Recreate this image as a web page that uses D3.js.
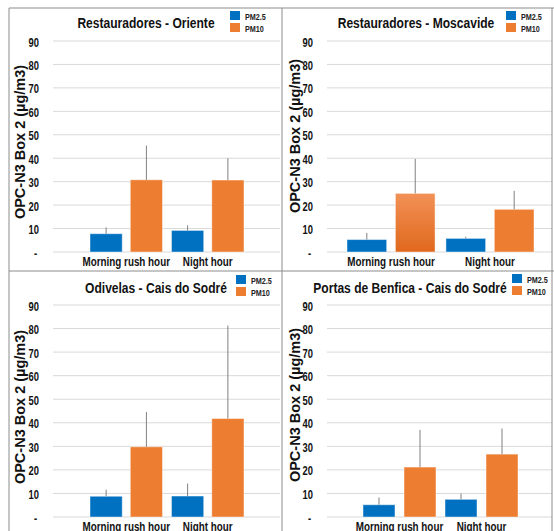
<!DOCTYPE html>
<html>
<head>
<meta charset="utf-8">
<script src="https://cdn.jsdelivr.net/npm/d3@7"></script>
<style>
  body { margin: 0; background: #fff; }
  svg { display: block; }
  text { font-family: "Liberation Sans", Arial, sans-serif; font-weight: bold; }
</style>
</head>
<body>
<svg id="chart" width="554" height="531"></svg>
<script>
// data
const categories = ["Morning rush hour", "Night hour"];
const series = ["PM2.5", "PM10"];
const titles = [
  "Restauradores - Oriente",
  "Restauradores - Moscavide",
  "Odivelas - Cais do Sodré",
  "Portas de Benfica - Cais do Sodré"
];
const pm25 = [[7.8, 9.2], [5.3, 5.8], [8.8, 8.9], [5.2, 7.5]];
const pm10 = [[30.8, 30.7], [25.0, 18.2], [29.8, 41.8], [21.2, 26.7]];
// upper error (sd) on each bar
const pm25Err = [[2.7, 2.2], [2.8, 0.7], [2.8, 5.3], [3.1, 2.5]];
const pm10Err = [[14.6, 9.3], [14.7, 7.9], [14.8, 39.5], [15.8, 10.9]];
const yTicks = [0, 10, 20, 30, 40, 50, 60, 70, 80, 90];
const yTitle = "OPC-N3 Box 2 (µg/m3)";

const colors = {"PM2.5": "#0070c0", "PM10": "#ed7d31"};

// where each panel sits on the page
const panels = [
  {y0: 252, y1: 41,  gx: 53,  gx2: 280, bx: [90, 244],  inner: 0.2,  titleX: 146, titleY: 28,  legX: 230, legY: 11,  labX: 25,  labY: 142},
  {y0: 252, y1: 41,  gx: 327, gx2: 552, bx: [347, 534], inner: 0.18, titleX: 416, titleY: 28,  legX: 506, legY: 11,  labX: 300, labY: 136},
  {y0: 517, y1: 305, gx: 53,  gx2: 280, bx: [90, 244],  inner: 0.2,  titleX: 156, titleY: 293, legX: 236, legY: 275, labX: 25,  labY: 407},
  {y0: 517, y1: 305, gx: 327, gx2: 552, bx: [363, 518], inner: 0.22, titleX: 410, titleY: 293, legX: 512, legY: 274, labX: 300, labY: 405}
];

// the source uses a narrow bold face; squeeze the text to get close
function squeeze(sel, f) {
  sel.each(function() {
    const L = this.getComputedTextLength();
    d3.select(this).attr("textLength", L * f).attr("lengthAdjust", "spacingAndGlyphs");
  });
}

const svg = d3.select("#chart");

const defs = svg.append("defs");
const grad = defs.append("linearGradient")
  .attr("id", "orangeGrad")
  .attr("x1", 0).attr("y1", 0).attr("x2", 0).attr("y2", 1);
grad.append("stop").attr("offset", "0%").attr("stop-color", "#f29157");
grad.append("stop").attr("offset", "100%").attr("stop-color", "#e0681c");

panels.forEach(function(p, k) {
  const g = svg.append("g");

  const y = d3.scaleLinear().domain([0, 90]).range([p.y0, p.y1]);
  const x0 = d3.scaleBand().domain(categories).range(p.bx).paddingInner(0.11);
  const x1 = d3.scaleBand().domain(series).range([0, x0.bandwidth()]).paddingInner(p.inner);

  // gridlines
  g.selectAll("line.grid")
    .data(yTicks)
    .join("line")
      .attr("class", "grid")
      .attr("x1", p.gx).attr("x2", p.gx2)
      .attr("y1", d => y(d)).attr("y2", d => y(d))
      .attr("stroke", "#d9d9d9")
      .attr("stroke-width", 1);

  // y axis labels
  const yAxis = d3.axisLeft(y).tickValues(yTicks).tickSize(0).tickPadding(0)
    .tickFormat(d => d === 0 ? "-" : d);
  const ax = g.append("g")
    .attr("transform", `translate(${p.gx - 14},0)`)
    .call(yAxis);
  ax.select(".domain").remove();
  ax.selectAll("text")
    .attr("font-size", 12)
    .attr("font-family", null)
    .attr("fill", "#111")
    .attr("dx", d => d === 0 ? -2 : 0)
    .attr("dy", "0.42em")
    .call(squeeze, 0.78);

  // rows of bars
  const rows = categories.map((c, i) => ({
    cat: c,
    vals: [
      {s: "PM2.5", v: pm25[k][i], e: pm25Err[k][i]},
      {s: "PM10", v: pm10[k][i], e: pm10Err[k][i]}
    ]
  }));

  const grp = g.selectAll("g.cat")
    .data(rows)
    .join("g")
      .attr("class", "cat")
      .attr("transform", d => `translate(${x0(d.cat)},0)`);

  grp.selectAll("rect")
    .data((d, i) => d.vals.map(v => Object.assign({ci: i}, v)))
    .join("rect")
      .attr("x", d => x1(d.s))
      .attr("y", d => y(d.v))
      .attr("width", x1.bandwidth())
      .attr("height", d => y(0) - y(d.v))
      .attr("fill", d => (k === 1 && d.ci === 0 && d.s === "PM10") ? "url(#orangeGrad)" : colors[d.s])
      .attr("stroke", "#ffffff")
      .attr("stroke-opacity", 0.45)
      .attr("stroke-width", 1);

  // upper error whiskers
  grp.selectAll("line.err")
    .data(d => d.vals)
    .join("line")
      .attr("class", "err")
      .attr("x1", d => x1(d.s) + x1.bandwidth() / 2)
      .attr("x2", d => x1(d.s) + x1.bandwidth() / 2)
      .attr("y1", d => y(d.v))
      .attr("y2", d => y(d.v + d.e))
      .attr("stroke", "#808080")
      .attr("stroke-width", 1);

  // category labels
  g.selectAll("text.cat")
    .data(categories)
    .join("text")
      .attr("class", "cat")
      .attr("x", d => x0(d) + x0.bandwidth() / 2)
      .attr("y", p.y0 + 14)
      .attr("text-anchor", "middle")
      .attr("font-size", 12)
      .attr("fill", "#111")
      .text(d => d)
      .call(squeeze, 0.82);

  // title
  g.append("text")
    .attr("x", p.titleX)
    .attr("y", p.titleY)
    .attr("text-anchor", "middle")
    .attr("font-size", 14)
    .attr("fill", "#111")
    .text(titles[k])
    .call(squeeze, 0.86);

  // y title
  g.append("text")
    .attr("transform", `translate(${p.labX},${p.labY}) rotate(-90)`)
    .attr("text-anchor", "middle")
    .attr("font-size", 14.5)
    .attr("fill", "#111")
    .text(yTitle);

  // legend
  const leg = g.selectAll("g.leg")
    .data(series)
    .join("g")
      .attr("class", "leg")
      .attr("transform", (d, i) => `translate(${p.legX},${p.legY + i * 12})`);
  leg.append("rect")
    .attr("width", 10).attr("height", 9)
    .attr("fill", d => colors[d]);
  leg.append("text")
    .attr("x", 15).attr("y", 9)
    .attr("font-size", 8.5)
    .attr("fill", "#222")
    .text(d => d)
    .call(squeeze, 0.85);
});

// panel frame lines
const frame = [
  {x1: 9, y1: 8, x2: 554, y2: 8},
  {x1: 9, y1: 8, x2: 9, y2: 531},
  {x1: 282, y1: 8, x2: 282, y2: 531},
  {x1: 9, y1: 271, x2: 554, y2: 271},
  {x1: 552, y1: 8, x2: 552, y2: 531}
];
svg.selectAll("line.frame")
  .data(frame)
  .join("line")
    .attr("class", "frame")
    .attr("x1", d => d.x1).attr("y1", d => d.y1)
    .attr("x2", d => d.x2).attr("y2", d => d.y2)
    .attr("stroke", "#8c8c8c")
    .attr("stroke-width", 1);
</script>
</body>
</html>
